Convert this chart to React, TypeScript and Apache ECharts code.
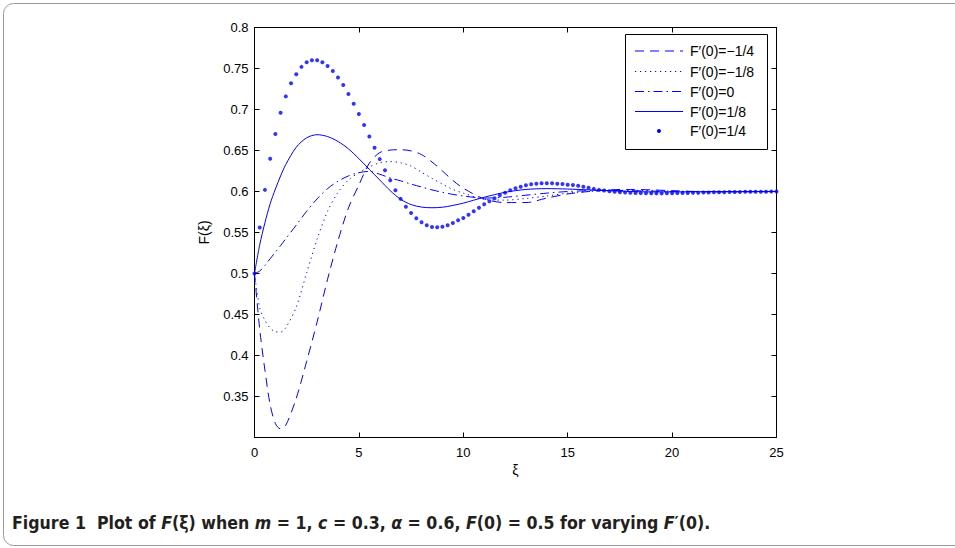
import React, { useEffect, useRef } from "react";
import * as echarts from "echarts";

// Sample positions (ξ) read for the four line curves
const xiGrid = [0, 0.25, 0.5, 0.75, 1, 1.25, 1.5, 2, 2.5, 3, 3.5, 4, 4.5, 5, 5.5, 6, 6.5, 7, 7.5, 8, 8.5, 9, 9.5, 10, 11, 12, 13, 14, 15, 16, 17, 18, 19, 20, 22, 25];

// F'(0) = -1/4 (dashed)
const fNegQuarter = [0.5, 0.432, 0.382, 0.34, 0.317, 0.3105, 0.315, 0.348, 0.393, 0.441, 0.493, 0.54, 0.58, 0.608, 0.6345, 0.6475, 0.6505, 0.651, 0.6495, 0.645, 0.636, 0.625, 0.6135, 0.604, 0.591, 0.5865, 0.5865, 0.592, 0.597, 0.6, 0.602, 0.6025, 0.602, 0.601, 0.5995, 0.6];
// F'(0) = -1/8 (dotted)
const fNegEighth = [0.5, 0.458, 0.443, 0.4335, 0.429, 0.4285, 0.434, 0.459, 0.501, 0.542, 0.576, 0.599, 0.614, 0.623, 0.63, 0.635, 0.6365, 0.635, 0.631, 0.6235, 0.616, 0.609, 0.6025, 0.598, 0.5905, 0.5895, 0.5915, 0.5945, 0.598, 0.6, 0.601, 0.6015, 0.601, 0.6005, 0.6, 0.6];
// F'(0) = 0 (dash-dot)
const fZero = [0.5, 0.503, 0.51, 0.518, 0.526, 0.534, 0.5425, 0.559, 0.576, 0.591, 0.6035, 0.6125, 0.619, 0.623, 0.6245, 0.621, 0.6165, 0.613, 0.609, 0.6055, 0.602, 0.599, 0.5965, 0.5945, 0.592, 0.593, 0.5955, 0.598, 0.6, 0.601, 0.6015, 0.601, 0.6005, 0.6, 0.6, 0.6];
// F'(0) = 1/8 (solid)
const fPosEighth = [0.5, 0.535, 0.562, 0.585, 0.603, 0.619, 0.633, 0.654, 0.6655, 0.6693, 0.667, 0.661, 0.652, 0.64, 0.627, 0.614, 0.601, 0.5905, 0.584, 0.581, 0.5802, 0.5808, 0.583, 0.5858, 0.593, 0.599, 0.6025, 0.6035, 0.603, 0.602, 0.601, 0.6, 0.5995, 0.5995, 0.5998, 0.6];

// F'(0) = 1/4 (point markers)
const xiDots = [
  0, 0.25, 0.5, 0.75, 1, 1.25, 1.5, 1.75, 2, 2.25, 2.5, 2.75, 3, 3.25, 3.5, 3.75, 4, 4.25, 4.5, 4.75,
  5, 5.25, 5.5, 5.75, 6, 6.25, 6.5, 6.75, 7, 7.25, 7.5, 7.75, 8, 8.25, 8.5, 8.75, 9, 9.25, 9.5, 9.75,
  10, 10.25, 10.5, 10.75, 11, 11.25, 11.5, 11.75, 12, 12.25, 12.5, 12.75, 13, 13.25, 13.5, 13.75, 14, 14.25, 14.5, 14.75,
  15, 15.25, 15.5, 15.75, 16, 16.25, 16.5, 16.75, 17, 17.25, 17.5, 17.75, 18, 18.25, 18.5, 18.75, 19, 19.25, 19.5, 19.75,
  20, 20.25, 20.5, 20.75, 21, 21.25, 21.5, 21.75, 22, 22.25, 22.5, 22.75, 23, 23.25, 23.5, 23.75, 24, 24.25, 24.5, 24.75,
  25,
];
const fPosQuarter = [
  0.5, 0.556, 0.602, 0.64, 0.67, 0.696, 0.716, 0.732, 0.743, 0.752, 0.7575, 0.76, 0.76, 0.7575, 0.753, 0.747, 0.739, 0.73, 0.719, 0.707,
  0.6945, 0.681, 0.667, 0.6534, 0.6395, 0.626, 0.6137, 0.6015, 0.591, 0.5815, 0.5738, 0.5673, 0.5624, 0.5588, 0.5567, 0.5565, 0.557, 0.5588, 0.5616, 0.5649,
  0.5677, 0.5717, 0.5758, 0.5802, 0.5844, 0.588, 0.5917, 0.5954, 0.5985, 0.6015, 0.6039, 0.6059, 0.6076, 0.6088, 0.6095, 0.61, 0.61, 0.61, 0.6095, 0.6092,
  0.6083, 0.6079, 0.607, 0.6057, 0.6045, 0.6032, 0.602, 0.6012, 0.6004, 0.5997, 0.5992, 0.5988, 0.5985, 0.5982, 0.598, 0.5979, 0.5978, 0.5977, 0.5977, 0.5978,
  0.5979, 0.598, 0.5981, 0.5982, 0.5984, 0.5985, 0.5987, 0.5988, 0.599, 0.5991, 0.5992, 0.5993, 0.5994, 0.5995, 0.5996, 0.5997, 0.5997, 0.5998, 0.5998, 0.5999,
  0.5999,
];

const legendLabels = ["F′(0)=−1/4", "F′(0)=−1/8", "F′(0)=0", "F′(0)=1/8", "F′(0)=1/4"];
const dashStyles: (number[] | null)[] = [[9, 6], [1.2, 3.8], [9, 4, 1.5, 4], null, null];
const lineSeriesData = [fNegQuarter, fNegEighth, fZero, fPosEighth];

const BLUE = "#0000ff";
const FONT = "'Liberation Sans', Arial, Helvetica, sans-serif";

export default function App() {
  const ref = useRef<HTMLDivElement>(null);
  useEffect(() => {
    if (!ref.current) return;
    const chart = echarts.init(ref.current, undefined, { renderer: "svg" });

    const pairs = (ys: number[]) => xiGrid.map((x, i) => [x, ys[i]]);

    const series: any[] = lineSeriesData.map((ys, i) => ({
      type: "line",
      name: legendLabels[i],
      data: pairs(ys),
      smooth: 0.3,
      symbol: "none",
      lineStyle: { color: BLUE, width: 1, type: dashStyles[i] ?? "solid" },
      z: 3,
    }));
    series.push({
      type: "scatter",
      name: legendLabels[4],
      data: xiDots.map((x, i) => [x, fPosQuarter[i]]),
      symbol: "circle",
      symbolSize: 4,
      itemStyle: { color: BLUE },
      z: 4,
    });

    // legend drawn as graphic
    const lgX = 625.5, lgY = 34.5, lgW = 142, lgH = 115;
    const rowY = [51, 71.5, 91.5, 111.5, 131];
    const legendEls: any[] = [
      { type: "rect", shape: { x: lgX, y: lgY, width: lgW, height: lgH }, style: { fill: "#fff", stroke: "#000", lineWidth: 1 }, z: 10 },
    ];
    rowY.forEach((y, i) => {
      if (i < 4) {
        legendEls.push({
          type: "line",
          shape: { x1: 635, y1: y, x2: 683, y2: y },
          style: { stroke: BLUE, lineWidth: 1, lineDash: dashStyles[i] ?? undefined },
          z: 11,
        });
      } else {
        legendEls.push({ type: "circle", shape: { cx: 659, cy: y, r: 2 }, style: { fill: BLUE }, z: 11 });
      }
      legendEls.push({
        type: "text",
        x: 690,
        y: y,
        style: { text: legendLabels[i], fontSize: 14, fontFamily: FONT, fill: "#000", verticalAlign: "middle", align: "left" },
        z: 11,
      });
    });

    const capFont = "'Liberation Sans Narrow', 'DejaVu Sans Condensed', 'Roboto', sans-serif";
    const caption = {
      type: "text",
      x: 12,
      y: 523,
      style: {
        text:
          "{b|Figure 1  Plot of }{i|F}{b|(ξ) when }{i|m}{b| = 1, }{i|c}{b| = 0.3, }{i|α}{b| = 0.6, }{i|F}{b|(0) = 0.5 for varying }{i|F}{b|′(0).}",
        verticalAlign: "middle",
        rich: {
          b: { fontSize: 17.6, fontWeight: "bold", fontFamily: capFont, fill: "#231f20" },
          i: { fontSize: 17.6, fontWeight: "bold", fontStyle: "italic", fontFamily: capFont, fill: "#231f20" },
        },
      },
    };

    const axisCommonX = {
      type: "value",
      min: 0,
      max: 25,
      interval: 5,
      splitLine: { show: false },
      axisLine: { show: true, onZero: false, lineStyle: { color: "#000", width: 1 } },
      axisTick: { show: true, inside: true, length: 5, lineStyle: { color: "#000" } },
    };
    const axisCommonY = {
      type: "value",
      min: 0.3,
      max: 0.8,
      interval: 0.05,
      splitLine: { show: false },
      axisLine: { show: true, onZero: false, lineStyle: { color: "#000", width: 1 } },
      axisTick: { show: true, inside: true, length: 5, lineStyle: { color: "#000" } },
    };

    chart.setOption({
      animation: false,
      backgroundColor: "#fff",
      grid: { left: 254.5, right: 178.5, top: 27.5, bottom: 110.5, containLabel: false },
      xAxis: [
        {
          ...axisCommonX,
          position: "bottom",
          name: "ξ",
          nameLocation: "middle",
          nameGap: 21,
          nameTextStyle: { fontSize: 14, fontFamily: FONT, color: "#000" },
          axisLabel: { fontSize: 13, fontFamily: FONT, color: "#000", margin: 8 },
        },
        { ...axisCommonX, position: "top", axisLabel: { show: false } },
      ],
      yAxis: [
        {
          ...axisCommonY,
          position: "left",
          name: "F(ξ)",
          nameLocation: "middle",
          nameRotate: 90,
          nameGap: 44,
          nameTextStyle: { fontSize: 14, fontFamily: FONT, color: "#000" },
          axisLabel: {
            fontSize: 13,
            fontFamily: FONT,
            color: "#000",
            margin: 6,
            showMinLabel: false,
            formatter: (v: number) => String(+v.toFixed(2)),
          },
        },
        { ...axisCommonY, position: "right", axisLabel: { show: false } },
      ],
      series,
      graphic: [
        {
          type: "rect",
          shape: { x: 3.5, y: 3.5, width: 1000, height: 542, r: 10 },
          style: { fill: "none", stroke: "#9a9a9a", lineWidth: 1 },
          silent: true,
          z: -1,
        },
        ...legendEls,
        caption,
      ],
    });
    return () => chart.dispose();
  }, []);
  return <div ref={ref} style={{ position: "fixed", left: 0, top: 0, width: 955, height: 548 }} />;
}
